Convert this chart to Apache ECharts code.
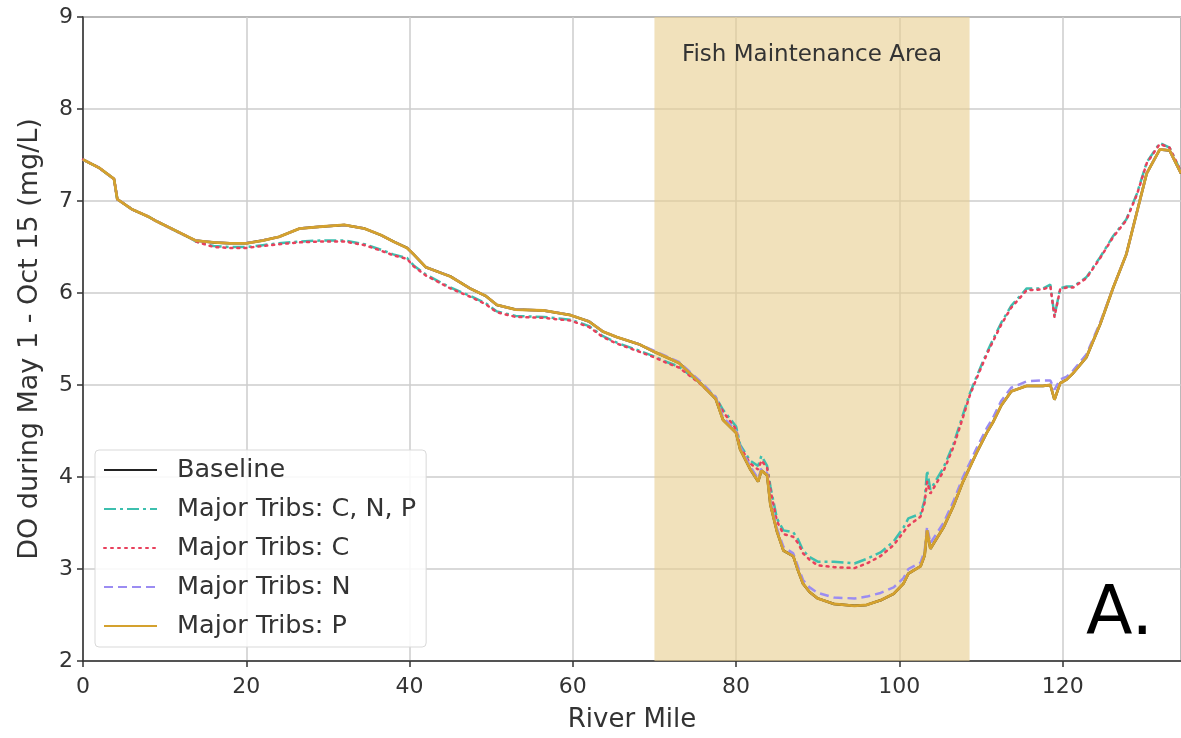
<!DOCTYPE html>
<html>
<head>
<meta charset="utf-8">
<script src="https://cdn.jsdelivr.net/npm/echarts@6/dist/echarts.min.js"></script>
<style>
html,body{margin:0;padding:0;background:#fff;}
#chart{width:1181px;height:738px;}
</style>
</head>
<body>
<div id="chart"></div>
<script>
// River mile positions (x)
const riverMile = [0, 2, 3.8, 4.2, 6, 8, 9, 11.5, 13.1, 13.8, 16, 18, 20, 22, 24, 26.5, 29, 32, 34.5, 36.5,
  38, 39.7, 40.5, 42, 45, 47.4, 49.3, 50.7, 53, 56.4, 59.7, 62, 63.7, 65.4, 68.2, 70, 71.5, 73, 75.5, 77.5,
  78.4, 80, 80.5, 81.7, 82.7, 83.1, 83.8, 84.2, 85, 85.8, 87, 87.6, 88.2, 89, 90, 92, 94.5, 96, 97.7, 99.3,
  100.5, 101.1, 102.6, 103.1, 103.4, 103.8, 105.4, 106.6, 107.8, 108.6, 109.5, 110.7, 111.5, 112.5, 113.7, 115.6, 117.6, 118.5, 119, 119.7,
  120.5, 121.3, 122.9, 124.6, 126.2, 127.8, 129.1, 130.3, 131.9, 133.1, 134.5];

const baseline = [7.45, 7.36, 7.24, 7.02, 6.91, 6.83, 6.78, 6.67, 6.60, 6.57, 6.55, 6.54, 6.54, 6.57, 6.61, 6.70, 6.72, 6.74, 6.70, 6.63,
  6.56, 6.49, 6.42, 6.28, 6.18, 6.05, 5.97, 5.87, 5.82, 5.81, 5.76, 5.69, 5.58, 5.52, 5.44, 5.36, 5.30, 5.24, 5.03, 4.85,
  4.62, 4.48, 4.30, 4.09, 3.95, 4.07, 4.02, 3.70, 3.41, 3.20, 3.14, 2.98, 2.84, 2.75, 2.68, 2.62, 2.60, 2.61, 2.66, 2.73,
  2.84, 2.95, 3.03, 3.15, 3.42, 3.22, 3.45, 3.68, 3.95, 4.10, 4.27, 4.48, 4.60, 4.78, 4.93, 4.99, 4.99, 5.00, 4.84, 5.02,
  5.06, 5.13, 5.30, 5.66, 6.06, 6.42, 6.88, 7.30, 7.56, 7.55, 7.30];

const tribsCNP = [7.45, 7.36, 7.24, 7.02, 6.91, 6.83, 6.78, 6.67, 6.60, 6.56, 6.51, 6.50, 6.50, 6.52, 6.54, 6.56, 6.57, 6.57, 6.53, 6.47,
  6.42, 6.38, 6.30, 6.20, 6.06, 5.97, 5.89, 5.80, 5.75, 5.74, 5.71, 5.64, 5.53, 5.46, 5.37, 5.31, 5.25, 5.20, 5.03, 4.87,
  4.73, 4.55, 4.35, 4.18, 4.12, 4.23, 4.12, 3.90, 3.55, 3.42, 3.40, 3.32, 3.20, 3.13, 3.08, 3.08, 3.06, 3.11, 3.18, 3.30,
  3.45, 3.55, 3.60, 3.75, 4.07, 3.86, 4.10, 4.35, 4.68, 4.90, 5.10, 5.35, 5.50, 5.68, 5.86, 6.05, 6.05, 6.09, 5.75, 6.05,
  6.07, 6.07, 6.17, 6.39, 6.62, 6.80, 7.08, 7.42, 7.63, 7.58, 7.32];

const tribsC = [7.45, 7.36, 7.24, 7.02, 6.91, 6.83, 6.78, 6.67, 6.60, 6.56, 6.50, 6.49, 6.49, 6.51, 6.53, 6.55, 6.56, 6.56, 6.52, 6.46,
  6.41, 6.37, 6.29, 6.19, 6.05, 5.96, 5.88, 5.79, 5.74, 5.73, 5.70, 5.63, 5.52, 5.45, 5.36, 5.30, 5.24, 5.19, 5.02, 4.86,
  4.71, 4.52, 4.33, 4.15, 4.08, 4.18, 4.10, 3.86, 3.52, 3.38, 3.35, 3.28, 3.17, 3.10, 3.04, 3.02, 3.01, 3.06, 3.14, 3.26,
  3.40, 3.47, 3.57, 3.72, 3.95, 3.82, 4.06, 4.32, 4.65, 4.88, 5.08, 5.33, 5.48, 5.66, 5.84, 6.03, 6.04, 6.07, 5.74, 6.04,
  6.06, 6.06, 6.16, 6.38, 6.61, 6.79, 7.07, 7.41, 7.62, 7.58, 7.32];

const tribsN = [7.45, 7.36, 7.24, 7.02, 6.91, 6.83, 6.78, 6.67, 6.60, 6.57, 6.55, 6.54, 6.54, 6.57, 6.61, 6.70, 6.72, 6.74, 6.70, 6.63,
  6.56, 6.49, 6.42, 6.28, 6.18, 6.05, 5.97, 5.87, 5.82, 5.81, 5.76, 5.69, 5.58, 5.52, 5.44, 5.37, 5.31, 5.25, 5.05, 4.87,
  4.65, 4.50, 4.33, 4.12, 3.98, 4.09, 4.04, 3.73, 3.44, 3.24, 3.17, 3.02, 2.88, 2.80, 2.74, 2.69, 2.68, 2.70, 2.74, 2.80,
  2.90, 3.00, 3.07, 3.20, 3.46, 3.28, 3.50, 3.73, 4.00, 4.15, 4.32, 4.53, 4.65, 4.83, 4.97, 5.04, 5.05, 5.05, 4.95, 5.06,
  5.09, 5.16, 5.33, 5.68, 6.06, 6.42, 6.88, 7.30, 7.56, 7.55, 7.30];

const tribsP = [7.45, 7.36, 7.24, 7.02, 6.91, 6.83, 6.78, 6.67, 6.60, 6.57, 6.55, 6.54, 6.54, 6.57, 6.61, 6.70, 6.72, 6.74, 6.70, 6.63,
  6.56, 6.49, 6.42, 6.28, 6.18, 6.05, 5.97, 5.87, 5.82, 5.81, 5.76, 5.69, 5.58, 5.52, 5.44, 5.36, 5.30, 5.24, 5.03, 4.85,
  4.62, 4.48, 4.30, 4.09, 3.95, 4.07, 4.02, 3.70, 3.41, 3.20, 3.14, 2.98, 2.84, 2.75, 2.68, 2.62, 2.60, 2.61, 2.66, 2.73,
  2.84, 2.95, 3.03, 3.15, 3.42, 3.22, 3.45, 3.68, 3.95, 4.10, 4.27, 4.48, 4.60, 4.78, 4.93, 4.99, 4.99, 5.00, 4.84, 5.02,
  5.06, 5.13, 5.30, 5.66, 6.06, 6.42, 6.88, 7.30, 7.56, 7.55, 7.30];

const seriesNames = ['Baseline', 'Major Tribs: C, N, P', 'Major Tribs: C', 'Major Tribs: N', 'Major Tribs: P'];
const fishArea = [70, 108.6];
const fishLabel = 'Fish Maintenance Area';
const panelLabel = 'A.';

function pairs(ys) { return riverMile.map((x, i) => [x, ys[i]]); }

const FONT = 'DejaVu Sans';
const chart = echarts.init(document.getElementById('chart'));

const styles = [
  { color: '#222222', width: 2.5, type: 'solid' },
  { color: '#3dbfae', width: 2.5, type: [12, 4, 3, 4] },
  { color: '#e8405c', width: 2.5, type: [2, 5] },
  { color: '#9b8cf2', width: 2.5, type: [9, 5] },
  { color: '#d4a12e', width: 2.8, type: 'solid' }
];
const dataSets = [baseline, tribsCNP, tribsC, tribsN, tribsP];

const series = seriesNames.map((name, i) => ({
  name: name,
  type: 'line',
  data: pairs(dataSets[i]),
  showSymbol: false,
  symbol: 'none',
  smooth: false,
  animation: false,
  lineStyle: { color: styles[i].color, width: styles[i].width, type: styles[i].type, cap: i === 2 ? 'round' : 'butt' },
  itemStyle: { color: styles[i].color },
  z: 3
}));

series[0].markArea = {
  silent: true,
  itemStyle: { color: 'rgba(232,205,142,0.6)' },
  label: {
    show: true, position: 'insideTop', distance: 27,
    color: '#333', fontFamily: FONT, fontSize: 23
  },
  data: [[{ name: fishLabel, xAxis: fishArea[0] }, { xAxis: fishArea[1] }]]
};

chart.setOption({
  animation: false,
  backgroundColor: '#fff',
  grid: { left: 83, right: 0, top: 17, bottom: 75, show: true, borderColor: '#555', borderWidth: 1.5, backgroundColor: 'transparent' },
  xAxis: {
    type: 'value', min: 0, max: 134.5, interval: 20,
    name: 'River Mile', nameLocation: 'middle', nameGap: 46,
    nameTextStyle: { fontFamily: FONT, fontSize: 26, color: '#333' },
    axisLine: { show: true, lineStyle: { color: '#333', width: 1.5 } },
    axisTick: { show: true, length: 6, lineStyle: { color: '#333', width: 1.5 } },
    axisLabel: { fontFamily: FONT, fontSize: 22, color: '#333', margin: 15, showMaxLabel: false },
    splitLine: { show: true, lineStyle: { color: '#cccccc', width: 1.5 } }
  },
  yAxis: {
    type: 'value', min: 2, max: 9, interval: 1,
    name: 'DO during May 1 - Oct 15 (mg/L)', nameLocation: 'middle', nameGap: 40,
    nameTextStyle: { fontFamily: FONT, fontSize: 27, color: '#333' },
    axisLine: { show: true, lineStyle: { color: '#333', width: 1.5 } },
    axisTick: { show: true, length: 6, lineStyle: { color: '#333', width: 1.5 } },
    axisLabel: { fontFamily: FONT, fontSize: 22, color: '#333', margin: 10 },
    splitLine: { show: true, lineStyle: { color: '#cccccc', width: 1.5 } }
  },
  legend: {
    orient: 'vertical', left: 95, top: 450,
    data: seriesNames,
    itemWidth: 53, itemHeight: 14, itemGap: 13,
    itemStyle: { opacity: 0 },
    padding: [7, 10, 8, 8],
    backgroundColor: 'rgba(255,255,255,0.85)',
    borderColor: '#d9d9d9', borderWidth: 1, borderRadius: 4,
    textStyle: { fontFamily: FONT, fontSize: 25.5, color: '#333', lineHeight: 24, padding: [0, 0, 0, 15] }
  },
  graphic: [{
    type: 'text', right: 28, top: 582, z: 10,
    style: { text: panelLabel, font: '68px "' + FONT + '"', fill: '#000' }
  }],
  series: series
});
</script>
</body>
</html>
